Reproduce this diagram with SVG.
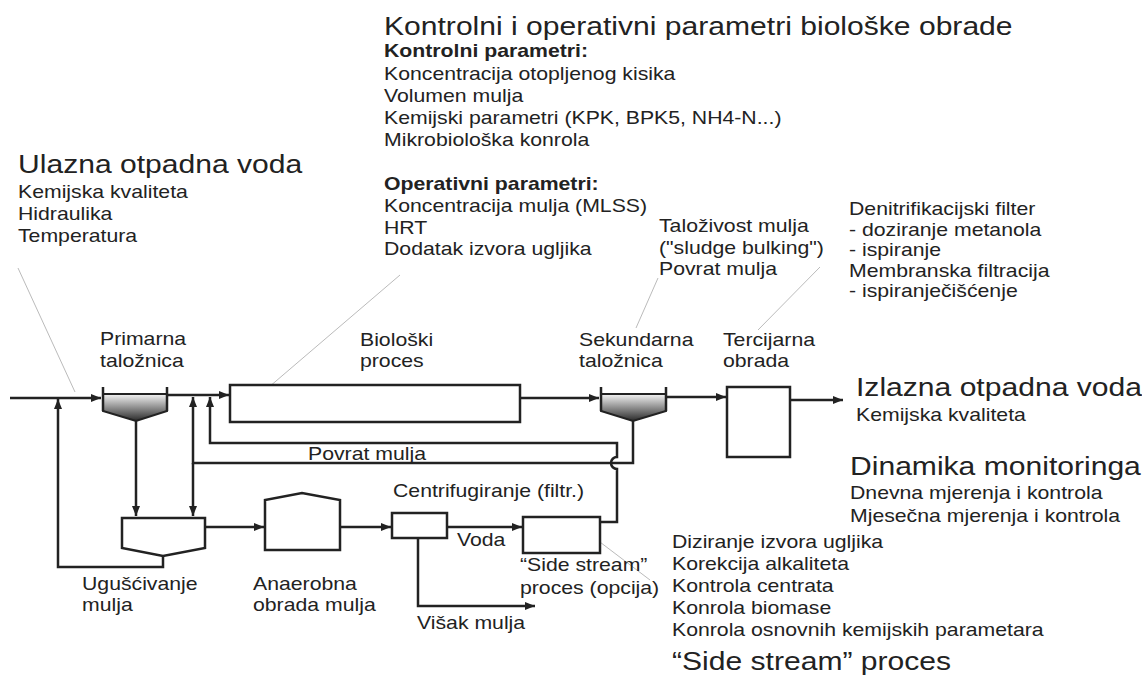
<svg xmlns="http://www.w3.org/2000/svg" width="1142" height="682" viewBox="0 0 1142 682">
<style>
.t{font-family:"Liberation Sans",Arial,sans-serif;fill:#222}
.h{font-size:25.5px}
.b{font-size:18px}
.bb{font-size:18px;font-weight:bold}
.ln{fill:none;stroke:#222;stroke-width:2.5}
.box{fill:#fff;stroke:#222;stroke-width:2.5}
.ld{fill:none;stroke:#bbb;stroke-width:1}
</style>
<defs>
<marker id="ar" viewBox="0 0 10 8" refX="10" refY="4" markerWidth="10" markerHeight="8" markerUnits="userSpaceOnUse" orient="auto">
<path d="M0,0 L10,4 L0,8 Z" fill="#222"/>
</marker>
<linearGradient id="gr" x1="0" y1="0" x2="0" y2="1">
<stop offset="0" stop-color="#f4f4f4"/>
<stop offset="1" stop-color="#2a2a2a"/>
</linearGradient>
</defs>
<rect width="1142" height="682" fill="#fff"/>

<g id="leaders">
<path class="ld" d="M18,268 L75,392"/>
<path class="ld" d="M262,393 L400,275"/>
<path class="ld" d="M658,278 L636,328"/>
<path class="ld" d="M820,267 L758,330"/>
<path class="ld" d="M592,536 L650,580"/>
</g>

<g id="connectors">
<path class="ln" d="M10,398 H101" marker-end="url(#ar)"/>
<path class="ln" d="M163,556 V567 H58 V399" marker-end="url(#ar)"/>
<path class="ln" d="M168,395 H229" marker-end="url(#ar)"/>
<path class="ln" d="M136,421 V516" marker-end="url(#ar)"/>
<path class="ln" d="M633,421 V463 H193 V397" marker-end="url(#ar)"/>
<path class="ln" d="M193,463 V516" marker-end="url(#ar)"/>
<path class="ln" d="M600,522 H617 V469 A6,6 0 0 1 617,457 V443 H210 V397" marker-end="url(#ar)"/>
<path class="ln" d="M205,527 H264" marker-end="url(#ar)"/>
<path class="ln" d="M340,527 H391" marker-end="url(#ar)"/>
<path class="ln" d="M447,527 H522" marker-end="url(#ar)"/>
<path class="ln" d="M418,538 V606 H535" marker-end="url(#ar)"/>
<path class="ln" d="M520,398 H599" marker-end="url(#ar)"/>
<path class="ln" d="M667,397 H726" marker-end="url(#ar)"/>
<path class="ln" d="M790,400 H843" marker-end="url(#ar)"/>
</g>

<g id="primary">
<path d="M103,394 H167 V411 L136,421 L103,411 Z" fill="url(#gr)" stroke="#222" stroke-width="2"/>
<path class="ln" d="M103,387 V411 M167,387 V411"/>
</g>
<g id="bio"><rect class="box" x="230" y="385" width="290" height="37"/></g>
<g id="secondary">
<path d="M601,394 H666 V411 L633,421 L601,411 Z" fill="url(#gr)" stroke="#222" stroke-width="2"/>
<path class="ln" d="M601,387 V411 M666,387 V411"/>
</g>
<g id="tertiary"><rect class="box" x="727" y="387" width="63" height="70"/></g>
<g id="thickener"><path class="box" d="M122,518 H205 V548 L163,556 L122,548 Z"/></g>
<g id="digester"><path class="box" d="M265,550 V500 L302,493 L340,500 V550 Z"/></g>
<g id="centrifuge"><rect class="box" x="392" y="513" width="55" height="25"/></g>
<g id="sidestream"><rect class="box" x="523" y="517" width="77" height="36"/></g>

<g id="labels">
<g transform="translate(100,0) scale(1.18,1)"><text class="t b" x="0" y="345">Primarna</text><text class="t b" x="0" y="367">taložnica</text></g>
<g transform="translate(360,0) scale(1.18,1)"><text class="t b" x="0" y="346">Biološki</text><text class="t b" x="0" y="367">proces</text></g>
<g transform="translate(579,0) scale(1.18,1)"><text class="t b" x="0" y="346">Sekundarna</text><text class="t b" x="0" y="367">taložnica</text></g>
<g transform="translate(723,0) scale(1.18,1)"><text class="t b" x="0" y="346">Tercijarna</text><text class="t b" x="0" y="367">obrada</text></g>
<g transform="translate(308,0) scale(1.18,1)"><text class="t b" x="0" y="460">Povrat mulja</text></g>
<g transform="translate(393,0) scale(1.18,1)"><text class="t b" x="0" y="497">Centrifugiranje (filtr.)</text></g>
<g transform="translate(457,0) scale(1.18,1)"><text class="t b" x="0" y="546">Voda</text></g>
<g transform="translate(520,0) scale(1.18,1)"><text class="t b" x="0" y="571">“Side stream”</text><text class="t b" x="0" y="594">proces (opcija)</text></g>
<g transform="translate(82,0) scale(1.18,1)"><text class="t b" x="0" y="590">Ugušćivanje</text><text class="t b" x="0" y="611">mulja</text></g>
<g transform="translate(253,0) scale(1.18,1)"><text class="t b" x="0" y="590">Anaerobna</text><text class="t b" x="0" y="611">obrada mulja</text></g>
<g transform="translate(417,0) scale(1.18,1)"><text class="t b" x="0" y="629">Višak mulja</text></g>
</g>

<g id="inflow-notes" transform="translate(18,0) scale(1.18,1)">
<text class="t h" x="0" y="173">Ulazna otpadna voda</text>
<text class="t b" x="0" y="198">Kemijska kvaliteta</text>
<text class="t b" x="0" y="220">Hidraulika</text>
<text class="t b" x="0" y="242">Temperatura</text>
</g>

<g id="bio-notes" transform="translate(384,0) scale(1.18,1)">
<text class="t h" x="0" y="35">Kontrolni i operativni parametri biološke obrade</text>
<text class="t bb" x="0" y="57">Kontrolni parametri:</text>
<text class="t b" x="0" y="80">Koncentracija otopljenog kisika</text>
<text class="t b" x="0" y="102">Volumen mulja</text>
<text class="t b" x="0" y="124">Kemijski parametri (KPK, BPK5, NH4-N...)</text>
<text class="t b" x="0" y="146">Mikrobiološka konrola</text>
<text class="t bb" x="0" y="190">Operativni parametri:</text>
<text class="t b" x="0" y="212">Koncentracija mulja (MLSS)</text>
<text class="t b" x="0" y="234">HRT</text>
<text class="t b" x="0" y="255">Dodatak izvora ugljika</text>
</g>

<g id="secondary-notes" transform="translate(659,0) scale(1.18,1)">
<text class="t b" x="0" y="232">Taloživost mulja</text>
<text class="t b" x="0" y="254">("sludge bulking")</text>
<text class="t b" x="0" y="275">Povrat mulja</text>
</g>

<g id="tertiary-notes" transform="translate(849,0) scale(1.18,1)">
<text class="t b" x="0" y="215">Denitrifikacijski filter</text>
<text class="t b" x="0" y="236">- doziranje metanola</text>
<text class="t b" x="0" y="256">- ispiranje</text>
<text class="t b" x="0" y="277">Membranska filtracija</text>
<text class="t b" x="0" y="297">- ispiranječišćenje</text>
</g>

<g id="outflow-notes" transform="translate(856,0) scale(1.18,1)">
<text class="t h" x="0" y="396">Izlazna otpadna voda</text>
<text class="t b" x="0" y="421">Kemijska kvaliteta</text>
</g>

<g id="monitoring-notes" transform="translate(850,0) scale(1.18,1)">
<text class="t h" x="0" y="475">Dinamika monitoringa</text>
<text class="t b" x="0" y="499">Dnevna mjerenja i kontrola</text>
<text class="t b" x="0" y="522">Mjesečna mjerenja i kontrola</text>
</g>

<g id="sidestream-notes" transform="translate(672,0) scale(1.18,1)">
<text class="t b" x="0" y="548">Diziranje izvora ugljika</text>
<text class="t b" x="0" y="570">Korekcija alkaliteta</text>
<text class="t b" x="0" y="592">Kontrola centrata</text>
<text class="t b" x="0" y="614">Konrola biomase</text>
<text class="t b" x="0" y="636">Konrola osnovnih kemijskih parametara</text>
<text class="t h" x="0" y="670">“Side stream” proces</text>
</g>
</svg>
